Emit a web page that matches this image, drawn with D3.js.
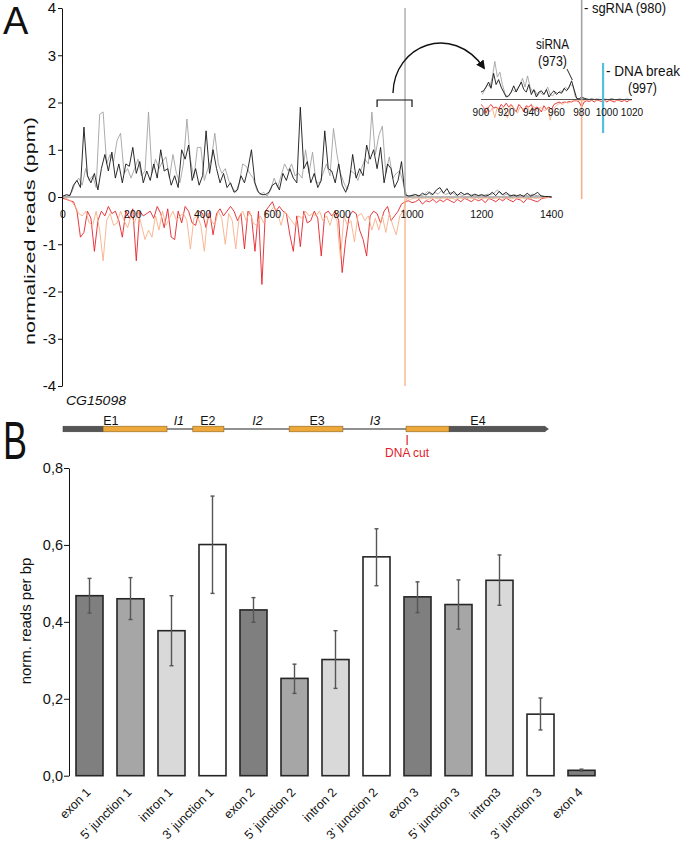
<!DOCTYPE html>
<html><head><meta charset="utf-8">
<script src="https://cdn.jsdelivr.net/npm/d3@7"></script>
<style>
body{margin:0;background:#fff;}
svg{display:block;}
text{font-family:"Liberation Sans",Arial,sans-serif;fill:#111;}
</style>
</head><body>
<svg id="c" width="681" height="841"></svg>
<script>
// ---------------- DATA ----------------
// Panel A: normalized reads (ppm) along CG15098, 10-bp sampling
const senseBlackStart = 0, senseGreyStart = 5, sampleStep = 10;
const senseBlack = [
0.02,0.05,0.03,0.25,0.35,0.2,1.48,0.45,0.3,0.5,
0.15,0.6,0.9,0.55,0.95,0.4,0.7,0.3,0.7,0.65,
1.05,0.5,0.75,0.3,0.55,0.35,0.7,0.4,1.0,0.55,
0.6,0.25,0.45,0.2,1.0,0.8,1.1,0.35,0.6,0.25,
0.45,1.4,0.5,1.0,0.6,0.3,0.5,0.2,0.3,0.1,
0.15,0.45,0.3,0.6,1.0,0.3,0.1,0.05,0.05,0.1,
0.25,0.3,0.15,0.5,0.35,0.6,0.4,0.3,1.9,0.6,
0.75,0.3,0.5,0.2,0.35,1.4,0.6,0.55,0.3,0.7,
0.25,0.1,0.3,0.9,0.4,0.6,0.45,1.1,0.8,1.0,
0.6,1.05,0.3,0.7,0.6,0.2,0.35,0.75,0.05,0.02,
0.03,0.05,0.02,0.08,0.04,0.1,0.05,0.15,0.2,0.08,
0.18,0.05,0.12,0.03,0.1,0.05,0.08,0.02,0.06,0.03,
0.05,0.02,0.04,0.1,0.03,0.12,0.05,0.1,0.02,0.04,
0.02,0.05,0.01,0.08,0.02,0.05,0.1,0.02,0.01,0.01,
0];
const senseGrey = [
0.03,0.02,0.1,0.3,0.4,0.25,0.6,0.35,0.45,0.2,
1.75,1.8,0.7,0.9,0.75,1.2,1.35,0.5,0.6,0.4,
0.6,0.8,0.45,0.55,1.8,0.5,0.8,0.6,0.75,0.85,
0.4,0.9,0.5,0.3,0.7,1.65,0.8,0.4,1.05,1.05,
0.35,0.6,0.8,1.35,0.7,0.5,0.6,0.35,0.2,0.1,
0.3,0.7,0.65,0.5,0.4,0.15,0.05,0.1,0.02,0.15,
0.4,0.2,0.45,0.7,0.55,0.7,0.45,0.5,0.4,1.0,
0.5,0.95,0.3,0.3,0.5,0.7,0.45,1.45,0.9,0.5,
0.3,0.15,0.55,0.5,0.35,0.6,0.8,0.7,1.8,0.9,
1.3,1.5,0.5,0.85,0.4,0.5,0.55,0.3,0.03,0.02,
0.06,0.04,0.03,0.05,0.12,0.04,0.1,0.06,0.14,0.05,
0.08,0.1,0.04,0.06,0.03,0.07,0.04,0.05,0.02,0.04,
0.03,0.06,0.05,0.08,0.15,0.06,0.04,0.07,0.03,0.05,
0.02,0.03,0.04,0.02,0.06,0.03,0.04,0.02,0.01,0.01];
const antiRed = [
-0.03,-0.05,-0.08,-0.1,-0.3,-0.85,-0.75,-0.3,-0.45,-1.15,
-0.5,-0.3,-0.4,-0.2,-0.35,-0.3,-0.5,-0.85,-0.3,-0.45,
-0.25,-1.35,-0.3,-0.4,-0.35,-0.3,-0.45,-0.2,-0.35,-0.65,
-0.25,-0.85,-0.9,-0.3,-0.55,-0.2,-0.3,-0.55,-0.6,-0.3,
-0.35,-0.65,-0.3,-0.8,-0.35,-0.25,-0.4,-0.3,-0.2,-0.3,
-0.5,-0.35,-1.1,-0.3,-0.4,-1.15,-0.3,-1.85,-0.3,-0.2,
-0.1,-0.3,-0.2,-0.3,-0.35,-0.8,-1.15,-0.4,-1.05,-0.3,
-0.55,-0.5,-0.3,-0.45,-1.25,-0.35,-0.3,-0.4,-0.3,-0.5,
-1.6,-0.9,-0.4,-0.3,-0.35,-0.7,-0.9,-1.25,-0.4,-0.3,
-0.35,-0.55,-0.3,-0.2,-0.5,-0.4,-0.3,-0.15,-0.1,-0.08,
-0.12,-0.1,-0.05,-0.15,-0.08,-0.1,-0.05,-0.12,-0.06,-0.1,
-0.04,-0.08,-0.12,-0.05,-0.1,-0.03,-0.06,-0.1,-0.04,-0.08,
-0.05,-0.12,-0.03,-0.06,-0.1,-0.04,-0.08,-0.02,-0.07,-0.1,
-0.04,-0.06,-0.12,-0.03,-0.05,-0.08,-0.1,-0.04,-0.02,-0.01,
0];
const antiOrange = [
-0.02,-0.05,-0.1,-0.2,-0.35,-0.4,-0.3,-0.55,-0.6,-0.3,
-0.7,-1.35,-0.5,-0.35,-0.6,-0.55,-0.3,-0.5,-0.65,-0.4,
-0.55,-0.3,-0.6,-0.9,-0.7,-0.85,-0.4,-0.7,-0.3,-0.6,
-0.45,-0.3,-0.5,-0.4,-0.35,-0.5,-1.1,-0.45,-0.4,-0.6,
-1.15,-0.35,-0.5,-0.6,-0.3,-0.45,-1.0,-0.35,-0.5,-1.1,
-0.4,-0.3,-0.5,-0.3,-0.55,-0.6,-0.4,-0.55,-0.3,-0.3,
-0.2,-0.35,-0.6,-0.3,-0.4,-0.5,-0.6,-0.4,-0.45,-0.3,
-0.4,-0.35,-0.4,-0.3,-0.5,-0.4,-0.6,-0.35,-0.5,-1.3,
-0.4,-0.6,-0.5,-0.95,-0.4,-0.35,-0.5,-0.4,-0.7,-0.45,
-0.7,-0.4,-0.75,-0.35,-0.6,-0.8,-0.4,-0.3,-0.03,-0.05,
-0.03,-0.02,-0.04,-0.02,-0.05,-0.03,-0.02,-0.04,-0.03,-0.02,
-0.04,-0.03,-0.05,-0.02,-0.03,-0.04,-0.02,-0.03,-0.05,-0.02,
-0.03,-0.02,-0.04,-0.03,-0.02,-0.05,-0.03,-0.02,-0.04,-0.02,
-0.03,-0.02,-0.03,-0.04,-0.02,-0.03,-0.02,-0.02,-0.01,-0.01];
const sgRNA = {pos: 980, sense: 4, anti: -4};
const siRNA = {pos: 973};
const dnaBreak = 997;
const yTicksA = [-4,-3,-2,-1,0,1,2,3,4];
const xTicksA = [0,200,400,600,800,1000,1200,1400];

// Inset (900-1020), 2-bp sampling
const insetBlackStart = 900, insetGreyStart = 901, insetStep = 2;
const insetBlack = [
0.3,0.35,0.5,0.7,0.45,1.05,0.6,0.8,0.5,0.3,
0.1,0.15,0.3,0.55,0.3,0.5,0.7,0.4,0.3,0.6,
0.2,0.4,0.1,0.3,0.35,0.2,0.4,0.1,0.25,0.35,
0.2,0.3,0.25,0.45,0.35,0.5,0.75,0.4,0.05,0.02,
0.1,0.05,0.02,0,0.02,0,0.01,0,0,0.01,
0,0,0.02,0,0,0.01,0,0,0.01,0,
0];
const insetGrey = [
0.2,0.4,0.6,0.5,0.9,1.53,0.9,1.1,0.6,0.25,
0.1,0.2,0.4,0.3,0.45,0.6,0.85,0.5,0.95,0.5,
0.3,0.35,0.15,0.3,0.2,0.3,0.5,0.2,0.15,0.3,
0.25,0.35,0.3,0.5,0.4,0.6,0.55,0.1,0.02,0.05,
0.05,0.02,0,0.01,0,0,0.01,0,0,0,
0,0.01,0,0,0,0.01,0,0,0,0];
const insetRed = [
-0.2,-0.3,-0.55,-0.3,-0.2,-0.35,-0.3,-0.4,-0.2,-0.3,
-0.15,-0.3,-0.2,-0.35,-0.5,-0.2,-0.3,-0.5,-0.25,-0.3,
-0.2,-0.45,-0.3,-0.35,-0.5,-0.25,-0.4,-0.3,-0.4,-0.2,
-0.15,-0.1,-0.15,-0.1,-0.12,-0.08,-0.1,-0.05,-0.05,-0.1,
-0.3,-0.1,-0.05,-0.08,-0.03,-0.1,-0.02,-0.05,-0.08,-0.02,
-0.1,-0.03,-0.06,-0.1,-0.02,-0.05,-0.08,-0.03,-0.1,-0.02,
-0.01];
const insetOrange = [
-0.25,-0.4,-0.3,-0.5,-0.35,-0.73,-0.3,-0.45,-0.3,-0.4,
-0.75,-0.3,-0.25,-0.45,-0.55,-0.3,-0.4,-0.35,-0.3,-0.5,
-0.25,-0.35,-0.5,-0.3,-0.4,-0.45,-0.3,-0.83,-0.4,-0.3,
-0.2,-0.15,-0.2,-0.1,-0.15,-0.1,-0.05,-0.05,-0.02,-0.05,
-0.05,-0.02,-0.02,-0.01,-0.02,-0.01,-0.02,-0.01,-0.02,-0.01,
-0.02,-0.01,-0.02,-0.01,-0.02,-0.01,-0.02,-0.01,-0.01,-0.01];
const insetTicks = [900,920,940,960,980,1000,1020];

// Gene model (bp, same axis as panel A)
const geneName = "CG15098";
const utrs = [[0,115],[1106,1381]];
const exons = [[115,298],[372,461],[648,802],[983,1106]];
const geneLabels = [
  {t:"E1",bp:137,it:false},{t:"I1",bp:332,it:true},{t:"E2",bp:415,it:false},
  {t:"I2",bp:557,it:true},{t:"E3",bp:728,it:false},{t:"I3",bp:894,it:true},{t:"E4",bp:1189,it:false}];
const dnaCutDrawn = 986;

// Panel B
const barLabels = ["exon 1","5' junction 1","intron 1","3' junction 1","exon 2","5' junction 2","intron 2","3' junction 2","exon 3","5' junction 3","intron3","3' junction 3","exon 4"];
const barTypes  = ["exon","j5","intron","j3","exon","j5","intron","j3","exon","j5","intron","j3","exon"];
const barValues = [0.468,0.460,0.377,0.601,0.431,0.253,0.302,0.569,0.465,0.445,0.508,0.160,0.014];
const errHigh   = [0.513,0.515,0.468,0.727,0.463,0.290,0.377,0.642,0.504,0.509,0.574,0.202,0.017];
const errLow    = [0.423,0.406,0.286,0.474,0.399,0.214,0.227,0.494,0.424,0.381,0.443,0.119,0.012];
const yTicksB = [0,0.2,0.4,0.6,0.8];

// ---------------- DRAW ----------------
const svg = d3.select("#c");
const defs = svg.append("defs");
const COL = {black:"#151515", grey:"#a3a3a3", red:"#e3222a", orange:"#f7b088", blue:"#56bfdc"};
const toPts = (arr, start, st) => arr.map((v,i)=>[start+i*st, v]);

// Panel A scales
const x = d3.scaleLinear().domain([0,1400]).range([63,551.6]);
const y = d3.scaleLinear().domain([-4,4]).range([386,8]);
const lineA = d3.line().x(d=>x(d[0])).y(d=>y(d[1]));

const gA = svg.append("g");
gA.append("line").attr("x1",x(0)).attr("x2",x(1400)).attr("y1",y(0)).attr("y2",y(0))
  .attr("stroke","#444").attr("stroke-width",0.8);
[[antiRed,senseBlackStart,COL.red],[antiOrange,senseGreyStart,COL.orange],
 [senseGrey,senseGreyStart,COL.grey],[senseBlack,senseBlackStart,COL.black]].forEach(([arr,st,c])=>{
  gA.append("path").attr("d",lineA(toPts(arr,st,sampleStep))).attr("fill","none")
    .attr("stroke",c).attr("stroke-width",0.9).attr("stroke-linejoin","miter");
});
gA.append("line").attr("x1",x(sgRNA.pos)).attr("x2",x(sgRNA.pos)).attr("y1",y(0)).attr("y2",y(sgRNA.sense))
  .attr("stroke",COL.grey).attr("stroke-width",1.3);
gA.append("line").attr("x1",x(sgRNA.pos)).attr("x2",x(sgRNA.pos)).attr("y1",y(0)).attr("y2",y(sgRNA.anti))
  .attr("stroke",COL.orange).attr("stroke-width",1.3);

const yAxA = d3.axisLeft(y).tickValues(yTicksA).tickSize(4).tickSizeOuter(0).tickFormat(d=>String(d));
const gy = svg.append("g").attr("transform","translate(62,0)").call(yAxA);
gy.select(".domain").attr("stroke","#111");
gy.selectAll(".tick line").attr("stroke","#111");
gy.selectAll("text").attr("font-size",15).attr("font-family","Liberation Sans, Arial, sans-serif").attr("fill","#111").attr("x",-6);

svg.append("g").selectAll("text").data(xTicksA).join("text")
  .attr("x",d=>x(d)).attr("y",218).attr("text-anchor","middle").attr("font-size",11.5)
  .attr("textLength",d=>String(d).length*5.8).attr("lengthAdjust","spacingAndGlyphs").text(d=>d);

const yLabA = svg.append("g").attr("transform","translate(35,231)");
yLabA.append("text").attr("transform","rotate(-90)").attr("text-anchor","middle")
  .attr("font-size",14).attr("textLength",228).attr("lengthAdjust","spacingAndGlyphs").text("normalized reads (ppm)");
svg.append("text").attr("x",3).attr("y",34).attr("font-size",38).text("A");

// bracket + arrow
svg.append("path").attr("d",`M${x(900)},107 V100 H${x(1000)} V107`).attr("fill","none").attr("stroke","#111").attr("stroke-width",1.2);
defs.append("marker").attr("id","ah").attr("viewBox","0 0 10 10").attr("refX",8).attr("refY",5)
  .attr("markerWidth",9).attr("markerHeight",9).attr("markerUnits","userSpaceOnUse").attr("orient","auto")
  .append("path").attr("d","M0,0 L10,5 L0,10 Z").attr("fill","#111");
svg.append("path").attr("d","M393,93 C394,45 452,22 484,68").attr("fill","none").attr("stroke","#111")
  .attr("stroke-width",1.4).attr("marker-end","url(#ah)");

// Inset
const xi = d3.scaleLinear().domain([900,1020]).range([481,632]);
const yi = d3.scaleLinear().domain([-4,4]).range([199,0]);
const lineI = d3.line().x(d=>xi(d[0])).y(d=>yi(d[1]));
const gI = svg.append("g");
[[insetRed,insetBlackStart,COL.red],[insetOrange,insetGreyStart,COL.orange],
 [insetGrey,insetGreyStart,COL.grey],[insetBlack,insetBlackStart,COL.black]].forEach(([arr,st,c])=>{
  gI.append("path").attr("d",lineI(toPts(arr,st,insetStep))).attr("fill","none")
    .attr("stroke",c).attr("stroke-width",0.9).attr("stroke-linejoin","miter");
});
gI.append("line").attr("x1",xi(900)).attr("x2",xi(1020)).attr("y1",yi(0)).attr("y2",yi(0)).attr("stroke","#444").attr("stroke-width",0.9);
gI.append("line").attr("x1",xi(sgRNA.pos)).attr("x2",xi(sgRNA.pos)).attr("y1",yi(0)).attr("y2",yi(sgRNA.sense)).attr("stroke",COL.grey).attr("stroke-width",1.6);
gI.append("line").attr("x1",xi(sgRNA.pos)).attr("x2",xi(sgRNA.pos)).attr("y1",yi(0)).attr("y2",yi(sgRNA.anti)).attr("stroke",COL.orange).attr("stroke-width",1.6);
gI.append("line").attr("x1",xi(dnaBreak)).attr("x2",xi(dnaBreak)).attr("y1",63).attr("y2",133).attr("stroke",COL.blue).attr("stroke-width",2.2);
gI.selectAll("text.it").data(insetTicks).join("text").attr("class","it")
  .attr("x",d=>xi(d)).attr("y",116).attr("text-anchor","middle").attr("font-size",11)
  .attr("textLength",d=>String(d).length*5.6).attr("lengthAdjust","spacingAndGlyphs").text(d=>d);
gI.append("line").attr("x1",567).attr("y1",69).attr("x2",xi(siRNA.pos)-0.5).attr("y2",80).attr("stroke","#111").attr("stroke-width",0.9);

const lab = (t,x0,y0,len,anchor)=>svg.append("text").attr("x",x0).attr("y",y0).attr("font-size",14)
  .attr("text-anchor",anchor||"start").attr("textLength",len).attr("lengthAdjust","spacingAndGlyphs").text(t);
lab(`- sgRNA (${sgRNA.pos})`,584,13,82);
lab("siRNA",536,49,33);
lab(`(${siRNA.pos})`,538,66,29);
lab("- DNA break",606,76,74);
lab(`(${dnaBreak})`,628,93,29);

// Gene model
const gG = svg.append("g");
const gy0 = 429;
gG.append("line").attr("x1",x(exons[0][1])).attr("x2",x(exons[3][0])).attr("y1",gy0).attr("y2",gy0).attr("stroke","#222").attr("stroke-width",1);
gG.selectAll("rect.u").data(utrs).join("rect").attr("class","u")
  .attr("x",d=>x(d[0])).attr("width",d=>x(d[1])-x(d[0])).attr("y",gy0-2.8).attr("height",5.6)
  .attr("fill","#565656").attr("stroke","#3a3a3a").attr("stroke-width",0.5);
gG.append("path").attr("d",`M${x(utrs[1][1])},${gy0-2.8} L${x(utrs[1][1])+4},${gy0} L${x(utrs[1][1])},${gy0+2.8} Z`).attr("fill","#565656");
gG.selectAll("rect.e").data(exons).join("rect").attr("class","e")
  .attr("x",d=>x(d[0])).attr("width",d=>x(d[1])-x(d[0])).attr("y",gy0-2.8).attr("height",5.6)
  .attr("fill","#eea83a").attr("stroke","#8a6420").attr("stroke-width",0.6);
gG.selectAll("text.gl").data(geneLabels).join("text").attr("class","gl")
  .attr("x",d=>x(d.bp)).attr("y",425).attr("text-anchor","middle").attr("font-size",12.5)
  .attr("font-style",d=>d.it?"italic":"normal").text(d=>d.t);
svg.append("text").attr("x",66).attr("y",405).attr("font-size",13).attr("font-style","italic").attr("textLength",60).attr("lengthAdjust","spacingAndGlyphs").text(geneName);
gG.append("line").attr("x1",x(dnaCutDrawn)).attr("x2",x(dnaCutDrawn)).attr("y1",435).attr("y2",445).attr("stroke","#e0202a").attr("stroke-width",1.2);
svg.append("text").attr("x",x(dnaCutDrawn)).attr("y",457).attr("text-anchor","middle").attr("font-size",12).style("fill","#e0202a").text("DNA cut");

// Panel B
svg.append("g").attr("transform","translate(3,459)").append("text")
  .attr("transform","scale(0.9,1.35)").attr("font-size",40).text("B");
const xb = d3.scaleBand().domain(barLabels).range([69,602]).paddingInner(0.3415).paddingOuter(0.1707);
const yb = d3.scaleLinear().domain([0,0.8]).range([775.7,468]);
const fillFor = {exon:"#7f7f7f", j5:"#a6a6a6", intron:"#d9d9d9", j3:"#ffffff"};
const gB = svg.append("g");
gB.selectAll("rect").data(barLabels).join("rect")
  .attr("x",d=>xb(d)).attr("width",xb.bandwidth())
  .attr("y",(d,i)=>yb(barValues[i])).attr("height",(d,i)=>yb(0)-yb(barValues[i]))
  .attr("fill",(d,i)=>fillFor[barTypes[i]]).attr("stroke","#262626").attr("stroke-width",1.6);
const eb = gB.selectAll("g.eb").data(barLabels).join("g").attr("class","eb")
  .attr("transform",d=>`translate(${xb(d)+xb.bandwidth()/2},0)`);
eb.append("line").attr("y1",(d,i)=>yb(errLow[i])).attr("y2",(d,i)=>yb(errHigh[i])).attr("stroke","#555").attr("stroke-width",1.4);
eb.append("line").attr("x1",-2).attr("x2",2).attr("y1",(d,i)=>yb(errLow[i])).attr("y2",(d,i)=>yb(errLow[i])).attr("stroke","#555").attr("stroke-width",1.4);
eb.append("line").attr("x1",-2).attr("x2",2).attr("y1",(d,i)=>yb(errHigh[i])).attr("y2",(d,i)=>yb(errHigh[i])).attr("stroke","#555").attr("stroke-width",1.4);

const yAxB = d3.axisLeft(yb).tickValues(yTicksB).tickSize(5).tickSizeOuter(0).tickFormat(d=>d.toFixed(1).replace(".",","));
const gyb = svg.append("g").attr("transform","translate(69,0)").call(yAxB);
gyb.select(".domain").attr("stroke","#111");
gyb.selectAll(".tick line").attr("stroke","#111");
gyb.selectAll("text").attr("font-size",14.5).attr("font-family","Liberation Sans, Arial, sans-serif").attr("fill","#111").attr("x",-6);

const lblG = gB.selectAll("g.bl").data(barLabels).join("g").attr("class","bl")
  .attr("transform",d=>`translate(${xb(d)+xb.bandwidth()/2+2},793)`);
lblG.append("text").attr("transform","rotate(-45)").attr("text-anchor","end").attr("font-size",12.5).text(d=>d);

const yLabB = svg.append("g").attr("transform","translate(31,621)");
yLabB.append("text").attr("transform","rotate(-90)").attr("text-anchor","middle").attr("font-size",15).text("norm. reads per bp");
</script>
</body></html>
